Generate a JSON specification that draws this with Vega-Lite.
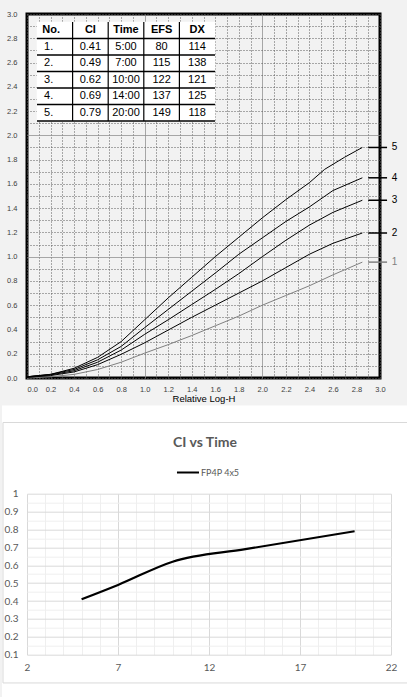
{
  "$schema": "https://vega.github.io/schema/vega-lite/v6.json",
  "background": "#f2f2f2",
  "padding": 0,
  "bounds": "flush",
  "spacing": 115.7,
  "config": {
    "view": {"stroke": null},
    "axis": {"ticks": false, "domain": false, "grid": true, "gridWidth": 1, "labelOverlap": false, "labelFlush": false, "labelBound": false}
  },
  "vconcat": [
    {
      "width": 353,
      "height": 364,
      "view": {"fill": "#f2f2f2", "stroke": "black", "strokeWidth": 3},
      "resolve": {"scale": {"x": "independent", "y": "independent"}, "axis": {"x": "independent", "y": "independent"}},
      "layer": [
        {
          "layer": [
            {
              "data": {"values": [
                {"s": 1, "x": 0, "y": 0.0}, {"s": 1, "x": 0.2, "y": 0.01}, {"s": 1, "x": 0.4, "y": 0.03}, {"s": 1, "x": 0.6, "y": 0.07}, {"s": 1, "x": 0.8, "y": 0.13}, {"s": 1, "x": 1.0, "y": 0.205}, {"s": 1, "x": 1.2, "y": 0.275}, {"s": 1, "x": 1.4, "y": 0.35}, {"s": 1, "x": 1.6, "y": 0.43}, {"s": 1, "x": 1.8, "y": 0.51}, {"s": 1, "x": 2.0, "y": 0.6}, {"s": 1, "x": 2.2, "y": 0.68}, {"s": 1, "x": 2.4, "y": 0.76}, {"s": 1, "x": 2.6, "y": 0.85}, {"s": 1, "x": 2.85, "y": 0.955},
                {"s": 2, "x": 0, "y": 0.005}, {"s": 2, "x": 0.2, "y": 0.02}, {"s": 2, "x": 0.4, "y": 0.05}, {"s": 2, "x": 0.6, "y": 0.11}, {"s": 2, "x": 0.8, "y": 0.195}, {"s": 2, "x": 1.0, "y": 0.29}, {"s": 2, "x": 1.2, "y": 0.395}, {"s": 2, "x": 1.4, "y": 0.5}, {"s": 2, "x": 1.6, "y": 0.6}, {"s": 2, "x": 1.8, "y": 0.7}, {"s": 2, "x": 2.0, "y": 0.8}, {"s": 2, "x": 2.2, "y": 0.91}, {"s": 2, "x": 2.4, "y": 1.02}, {"s": 2, "x": 2.6, "y": 1.11}, {"s": 2, "x": 2.85, "y": 1.195},
                {"s": 3, "x": 0, "y": 0.01}, {"s": 3, "x": 0.2, "y": 0.025}, {"s": 3, "x": 0.4, "y": 0.06}, {"s": 3, "x": 0.6, "y": 0.13}, {"s": 3, "x": 0.8, "y": 0.23}, {"s": 3, "x": 1.0, "y": 0.36}, {"s": 3, "x": 1.2, "y": 0.48}, {"s": 3, "x": 1.4, "y": 0.605}, {"s": 3, "x": 1.6, "y": 0.73}, {"s": 3, "x": 1.8, "y": 0.86}, {"s": 3, "x": 2.0, "y": 1.0}, {"s": 3, "x": 2.2, "y": 1.135}, {"s": 3, "x": 2.4, "y": 1.26}, {"s": 3, "x": 2.6, "y": 1.365}, {"s": 3, "x": 2.85, "y": 1.465},
                {"s": 4, "x": 0, "y": 0.01}, {"s": 4, "x": 0.2, "y": 0.03}, {"s": 4, "x": 0.4, "y": 0.07}, {"s": 4, "x": 0.6, "y": 0.15}, {"s": 4, "x": 0.8, "y": 0.26}, {"s": 4, "x": 1.0, "y": 0.415}, {"s": 4, "x": 1.2, "y": 0.565}, {"s": 4, "x": 1.4, "y": 0.715}, {"s": 4, "x": 1.6, "y": 0.865}, {"s": 4, "x": 1.8, "y": 1.02}, {"s": 4, "x": 2.0, "y": 1.155}, {"s": 4, "x": 2.2, "y": 1.29}, {"s": 4, "x": 2.4, "y": 1.41}, {"s": 4, "x": 2.6, "y": 1.545}, {"s": 4, "x": 2.85, "y": 1.65},
                {"s": 5, "x": 0, "y": 0.01}, {"s": 5, "x": 0.2, "y": 0.03}, {"s": 5, "x": 0.4, "y": 0.08}, {"s": 5, "x": 0.6, "y": 0.17}, {"s": 5, "x": 0.8, "y": 0.3}, {"s": 5, "x": 1.0, "y": 0.48}, {"s": 5, "x": 1.2, "y": 0.66}, {"s": 5, "x": 1.4, "y": 0.83}, {"s": 5, "x": 1.6, "y": 1.0}, {"s": 5, "x": 1.8, "y": 1.16}, {"s": 5, "x": 2.0, "y": 1.32}, {"s": 5, "x": 2.2, "y": 1.47}, {"s": 5, "x": 2.4, "y": 1.61}, {"s": 5, "x": 2.53, "y": 1.72}, {"s": 5, "x": 2.7, "y": 1.82}, {"s": 5, "x": 2.85, "y": 1.9}
              ]},
              "mark": {"type": "line", "strokeWidth": 1, "clip": false},
              "encoding": {
                "x": {
                  "field": "x", "type": "quantitative",
                  "scale": {"domain": [0, 3], "nice": false, "zero": false},
                  "axis": {
                    "values": [0,0.1,0.2,0.3,0.4,0.5,0.6,0.7,0.8,0.9,1,1.1,1.2,1.3,1.4,1.5,1.6,1.7,1.8,1.9,2,2.1,2.2,2.3,2.4,2.5,2.6,2.7,2.8,2.9,3],
                    "gridColor": {"condition": {"test": "datum.value == 1 || datum.value == 2", "value": "#8c8c8c"}, "value": "#5a5a5a"},
                    "gridDash": {"condition": {"test": "datum.value == 1 || datum.value == 2", "value": [1, 0]}, "value": [1, 2]},
                    "labelExpr": "round(datum.value * 10) % 2 == 0 ? format(datum.value, '.1f') : ''",
                    "labelAlign": {"condition": {"test": "datum.value == 0", "value": "left"}, "value": "center"},
                    "labelFont": "Liberation Sans", "labelFontSize": 7.5, "labelColor": "#404040", "labelPadding": 7,
                    "title": "Relative Log-H", "titleFont": "Liberation Sans", "titleFontSize": 9.5, "titleFontWeight": "normal", "titleColor": "#000000", "titlePadding": 1
                  }
                },
                "y": {
                  "field": "y", "type": "quantitative",
                  "scale": {"domain": [0, 3], "nice": false, "zero": false},
                  "axis": {
                    "values": [0,0.1,0.2,0.3,0.4,0.5,0.6,0.7,0.8,0.9,1,1.1,1.2,1.3,1.4,1.5,1.6,1.7,1.8,1.9,2,2.1,2.2,2.3,2.4,2.5,2.6,2.7,2.8,2.9,3],
                    "gridColor": {"condition": {"test": "datum.value == 1 || datum.value == 2", "value": "#8c8c8c"}, "value": "#5a5a5a"},
                    "gridDash": {"condition": {"test": "datum.value == 1 || datum.value == 2", "value": [1, 0]}, "value": [1, 2]},
                    "labelExpr": "round(datum.value * 10) % 2 == 0 ? format(datum.value, '.1f') : ''",
                    "labelFont": "Liberation Sans", "labelFontSize": 7.5, "labelColor": "#404040", "labelPadding": 10,
                    "title": null
                  }
                },
                "color": {"field": "s", "type": "nominal", "scale": {"domain": [1, 2, 3, 4, 5], "range": ["#808080", "#000000", "#000000", "#000000", "#000000"]}, "legend": null},
                "detail": {"field": "s"}
              }
            },
            {
              "data": {"values": [{}]},
              "mark": {"type": "rect", "fill": "transparent", "clip": false},
              "encoding": {
                "x": {"datum": -0.2125, "type": "quantitative", "scale": {"domain": [0, 3], "nice": false, "zero": false},
                  "axis": {
                    "values": [0,0.1,0.2,0.3,0.4,0.5,0.6,0.7,0.8,0.9,1,1.1,1.2,1.3,1.4,1.5,1.6,1.7,1.8,1.9,2,2.1,2.2,2.3,2.4,2.5,2.6,2.7,2.8,2.9,3],
                    "gridColor": {"condition": {"test": "datum.value == 1 || datum.value == 2", "value": "#8c8c8c"}, "value": "#5a5a5a"},
                    "gridDash": {"condition": {"test": "datum.value == 1 || datum.value == 2", "value": [1, 0]}, "value": [1, 2]},
                    "labelExpr": "round(datum.value * 10) % 2 == 0 ? format(datum.value, '.1f') : ''",
                    "labelAlign": {"condition": {"test": "datum.value == 0", "value": "left"}, "value": "center"},
                    "labelFont": "Liberation Sans", "labelFontSize": 7.5, "labelColor": "#404040", "labelPadding": 7,
                    "title": "Relative Log-H", "titleFont": "Liberation Sans", "titleFontSize": 9.5, "titleFontWeight": "normal", "titleColor": "#000000", "titlePadding": 1
                  }},
                "x2": {"datum": 3.2465},
                "y": {"datum": 3.0989, "type": "quantitative", "scale": {"domain": [0, 3], "nice": false, "zero": false},
                  "axis": {
                    "values": [0,0.1,0.2,0.3,0.4,0.5,0.6,0.7,0.8,0.9,1,1.1,1.2,1.3,1.4,1.5,1.6,1.7,1.8,1.9,2,2.1,2.2,2.3,2.4,2.5,2.6,2.7,2.8,2.9,3],
                    "gridColor": {"condition": {"test": "datum.value == 1 || datum.value == 2", "value": "#8c8c8c"}, "value": "#5a5a5a"},
                    "gridDash": {"condition": {"test": "datum.value == 1 || datum.value == 2", "value": [1, 0]}, "value": [1, 2]},
                    "labelExpr": "round(datum.value * 10) % 2 == 0 ? format(datum.value, '.1f') : ''",
                    "labelFont": "Liberation Sans", "labelFontSize": 7.5, "labelColor": "#404040", "labelPadding": 10,
                    "title": null
                  }},
                "y2": {"datum": 0}
              }
            },
            {
              "data": {"values": [{}]},
              "mark": {"type": "rect", "fill": "white", "clip": false},
              "encoding": {
                "x": {"datum": -0.2125, "type": "quantitative", "scale": {"domain": [0, 3], "nice": false, "zero": false},
                  "axis": {
                    "values": [0,0.1,0.2,0.3,0.4,0.5,0.6,0.7,0.8,0.9,1,1.1,1.2,1.3,1.4,1.5,1.6,1.7,1.8,1.9,2,2.1,2.2,2.3,2.4,2.5,2.6,2.7,2.8,2.9,3],
                    "gridColor": {"condition": {"test": "datum.value == 1 || datum.value == 2", "value": "#8c8c8c"}, "value": "#5a5a5a"},
                    "gridDash": {"condition": {"test": "datum.value == 1 || datum.value == 2", "value": [1, 0]}, "value": [1, 2]},
                    "labelExpr": "round(datum.value * 10) % 2 == 0 ? format(datum.value, '.1f') : ''",
                    "labelAlign": {"condition": {"test": "datum.value == 0", "value": "left"}, "value": "center"},
                    "labelFont": "Liberation Sans", "labelFontSize": 7.5, "labelColor": "#404040", "labelPadding": 7,
                    "title": "Relative Log-H", "titleFont": "Liberation Sans", "titleFontSize": 9.5, "titleFontWeight": "normal", "titleColor": "#000000", "titlePadding": 1
                  }},
                "x2": {"datum": 3.2465},
                "y": {"datum": -0.2267, "type": "quantitative", "scale": {"domain": [0, 3], "nice": false, "zero": false},
                  "axis": {
                    "values": [0,0.1,0.2,0.3,0.4,0.5,0.6,0.7,0.8,0.9,1,1.1,1.2,1.3,1.4,1.5,1.6,1.7,1.8,1.9,2,2.1,2.2,2.3,2.4,2.5,2.6,2.7,2.8,2.9,3],
                    "gridColor": {"condition": {"test": "datum.value == 1 || datum.value == 2", "value": "#8c8c8c"}, "value": "#5a5a5a"},
                    "gridDash": {"condition": {"test": "datum.value == 1 || datum.value == 2", "value": [1, 0]}, "value": [1, 2]},
                    "labelExpr": "round(datum.value * 10) % 2 == 0 ? format(datum.value, '.1f') : ''",
                    "labelFont": "Liberation Sans", "labelFontSize": 7.5, "labelColor": "#404040", "labelPadding": 10,
                    "title": null
                  }},
                "y2": {"datum": -2.6456}
              }
            },
            {
              "data": {"values": [{"s": 1, "v": 0.955}, {"s": 2, "v": 1.195}, {"s": 3, "v": 1.465}, {"s": 4, "v": 1.65}, {"s": 5, "v": 1.9}]},
              "mark": {"type": "rule", "strokeWidth": 1.5, "clip": false},
              "encoding": {
                "x": {"datum": 2.9, "type": "quantitative", "scale": {"domain": [0, 3], "nice": false, "zero": false},
                  "axis": {
                    "values": [0,0.1,0.2,0.3,0.4,0.5,0.6,0.7,0.8,0.9,1,1.1,1.2,1.3,1.4,1.5,1.6,1.7,1.8,1.9,2,2.1,2.2,2.3,2.4,2.5,2.6,2.7,2.8,2.9,3],
                    "gridColor": {"condition": {"test": "datum.value == 1 || datum.value == 2", "value": "#8c8c8c"}, "value": "#5a5a5a"},
                    "gridDash": {"condition": {"test": "datum.value == 1 || datum.value == 2", "value": [1, 0]}, "value": [1, 2]},
                    "labelExpr": "round(datum.value * 10) % 2 == 0 ? format(datum.value, '.1f') : ''",
                    "labelAlign": {"condition": {"test": "datum.value == 0", "value": "left"}, "value": "center"},
                    "labelFont": "Liberation Sans", "labelFontSize": 7.5, "labelColor": "#404040", "labelPadding": 7,
                    "title": "Relative Log-H", "titleFont": "Liberation Sans", "titleFontSize": 9.5, "titleFontWeight": "normal", "titleColor": "#000000", "titlePadding": 1
                  }},
                "x2": {"datum": 3.06},
                "y": {"field": "v", "type": "quantitative", "scale": {"domain": [0, 3], "nice": false, "zero": false},
                  "axis": {
                    "values": [0,0.1,0.2,0.3,0.4,0.5,0.6,0.7,0.8,0.9,1,1.1,1.2,1.3,1.4,1.5,1.6,1.7,1.8,1.9,2,2.1,2.2,2.3,2.4,2.5,2.6,2.7,2.8,2.9,3],
                    "gridColor": {"condition": {"test": "datum.value == 1 || datum.value == 2", "value": "#8c8c8c"}, "value": "#5a5a5a"},
                    "gridDash": {"condition": {"test": "datum.value == 1 || datum.value == 2", "value": [1, 0]}, "value": [1, 2]},
                    "labelExpr": "round(datum.value * 10) % 2 == 0 ? format(datum.value, '.1f') : ''",
                    "labelFont": "Liberation Sans", "labelFontSize": 7.5, "labelColor": "#404040", "labelPadding": 10,
                    "title": null
                  }},
                "color": {"field": "s", "type": "nominal", "scale": {"domain": [1, 2, 3, 4, 5], "range": ["#808080", "#000000", "#000000", "#000000", "#000000"]}, "legend": null}
              }
            },
            {
              "data": {"values": [{"s": 1, "v": 0.955}, {"s": 2, "v": 1.195}, {"s": 3, "v": 1.465}, {"s": 4, "v": 1.65}, {"s": 5, "v": 1.9}]},
              "mark": {"type": "text", "align": "left", "baseline": "middle", "font": "Liberation Sans", "fontSize": 10, "clip": false},
              "encoding": {
                "x": {"datum": 3.1, "type": "quantitative", "scale": {"domain": [0, 3], "nice": false, "zero": false},
                  "axis": {
                    "values": [0,0.1,0.2,0.3,0.4,0.5,0.6,0.7,0.8,0.9,1,1.1,1.2,1.3,1.4,1.5,1.6,1.7,1.8,1.9,2,2.1,2.2,2.3,2.4,2.5,2.6,2.7,2.8,2.9,3],
                    "gridColor": {"condition": {"test": "datum.value == 1 || datum.value == 2", "value": "#8c8c8c"}, "value": "#5a5a5a"},
                    "gridDash": {"condition": {"test": "datum.value == 1 || datum.value == 2", "value": [1, 0]}, "value": [1, 2]},
                    "labelExpr": "round(datum.value * 10) % 2 == 0 ? format(datum.value, '.1f') : ''",
                    "labelAlign": {"condition": {"test": "datum.value == 0", "value": "left"}, "value": "center"},
                    "labelFont": "Liberation Sans", "labelFontSize": 7.5, "labelColor": "#404040", "labelPadding": 7,
                    "title": "Relative Log-H", "titleFont": "Liberation Sans", "titleFontSize": 9.5, "titleFontWeight": "normal", "titleColor": "#000000", "titlePadding": 1
                  }},
                "y": {"field": "v", "type": "quantitative", "scale": {"domain": [0, 3], "nice": false, "zero": false},
                  "axis": {
                    "values": [0,0.1,0.2,0.3,0.4,0.5,0.6,0.7,0.8,0.9,1,1.1,1.2,1.3,1.4,1.5,1.6,1.7,1.8,1.9,2,2.1,2.2,2.3,2.4,2.5,2.6,2.7,2.8,2.9,3],
                    "gridColor": {"condition": {"test": "datum.value == 1 || datum.value == 2", "value": "#8c8c8c"}, "value": "#5a5a5a"},
                    "gridDash": {"condition": {"test": "datum.value == 1 || datum.value == 2", "value": [1, 0]}, "value": [1, 2]},
                    "labelExpr": "round(datum.value * 10) % 2 == 0 ? format(datum.value, '.1f') : ''",
                    "labelFont": "Liberation Sans", "labelFontSize": 7.5, "labelColor": "#404040", "labelPadding": 10,
                    "title": null
                  }},
                "text": {"field": "s"},
                "color": {"field": "s", "type": "nominal", "scale": {"domain": [1, 2, 3, 4, 5], "range": ["#808080", "#000000", "#000000", "#000000", "#000000"]}, "legend": null}
              }
            }
          ]
        },
        {
          "data": {"values": [
            {"row": "hdr", "no": "No.", "ci": "CI", "time": "Time", "efs": "EFS", "dx": "DX"},
            {"row": "1", "no": "1.", "ci": "0.41", "time": "5:00", "efs": "80", "dx": "114"},
            {"row": "2", "no": "2.", "ci": "0.49", "time": "7:00", "efs": "115", "dx": "138"},
            {"row": "3", "no": "3.", "ci": "0.62", "time": "10:00", "efs": "122", "dx": "121"},
            {"row": "4", "no": "4.", "ci": "0.69", "time": "14:00", "efs": "137", "dx": "125"},
            {"row": "5", "no": "5.", "ci": "0.79", "time": "20:00", "efs": "149", "dx": "118"}
          ]},
          "layer": [
            {
              "transform": [{"fold": ["no", "ci", "time", "efs", "dx"], "as": ["col", "txt"]}],
              "mark": {"type": "rect", "fill": "white", "stroke": "white", "strokeWidth": 0.5},
              "encoding": {
                "x": {"field": "col", "type": "nominal", "scale": {"type": "band", "domain": ["no", "ci", "time", "efs", "dx"], "range": [10, 188], "paddingInner": 0, "paddingOuter": 0}, "axis": null},
                "y": {"field": "row", "type": "nominal", "scale": {"type": "band", "domain": ["hdr", "1", "2", "3", "4", "5"], "range": [8, 107], "paddingInner": 0, "paddingOuter": 0}, "axis": null}
              }
            },
            {
              "mark": {"type": "rule", "color": "black", "strokeWidth": 1.5},
              "encoding": {
                "x": {"datum": "no", "type": "nominal", "bandPosition": 0, "scale": {"type": "band", "domain": ["no", "ci", "time", "efs", "dx"], "range": [10, 188], "paddingInner": 0, "paddingOuter": 0}, "axis": null},
                "x2": {"datum": "dx", "bandPosition": 1},
                "y": {"field": "row", "type": "nominal", "bandPosition": 1, "scale": {"type": "band", "domain": ["hdr", "1", "2", "3", "4", "5"], "range": [8, 107], "paddingInner": 0, "paddingOuter": 0}, "axis": null}
              }
            },
            {
              "transform": [{"fold": ["no", "ci", "time", "efs", "dx"], "as": ["col", "txt"]}, {"filter": "datum.row == 'hdr' && datum.col != 'no'"}],
              "mark": {"type": "rule", "color": "black", "strokeWidth": 1.2},
              "encoding": {
                "x": {"field": "col", "type": "nominal", "bandPosition": 0, "scale": {"type": "band", "domain": ["no", "ci", "time", "efs", "dx"], "range": [10, 188], "paddingInner": 0, "paddingOuter": 0}, "axis": null},
                "y": {"datum": "hdr", "type": "nominal", "bandPosition": 0, "scale": {"type": "band", "domain": ["hdr", "1", "2", "3", "4", "5"], "range": [8, 107], "paddingInner": 0, "paddingOuter": 0}, "axis": null},
                "y2": {"datum": "5", "bandPosition": 1}
              }
            },
            {
              "transform": [{"fold": ["no", "ci", "time", "efs", "dx"], "as": ["col", "txt"]}, {"filter": "datum.row == 'hdr' && datum.col == 'no'"}],
              "mark": {"type": "text", "align": "left", "baseline": "middle", "font": "Liberation Sans", "fontSize": 11, "fontWeight": "bold", "color": "black"},
              "encoding": {
                "x": {"field": "col", "type": "nominal", "bandPosition": 0.15, "scale": {"type": "band", "domain": ["no", "ci", "time", "efs", "dx"], "range": [10, 188], "paddingInner": 0, "paddingOuter": 0}, "axis": null},
                "y": {"field": "row", "type": "nominal", "scale": {"type": "band", "domain": ["hdr", "1", "2", "3", "4", "5"], "range": [8, 107], "paddingInner": 0, "paddingOuter": 0}, "axis": null},
                "text": {"field": "txt"}
              }
            },
            {
              "transform": [{"fold": ["no", "ci", "time", "efs", "dx"], "as": ["col", "txt"]}, {"filter": "datum.row == 'hdr' && datum.col != 'no'"}],
              "mark": {"type": "text", "align": "center", "baseline": "middle", "font": "Liberation Sans", "fontSize": 11, "fontWeight": "bold", "color": "black"},
              "encoding": {
                "x": {"field": "col", "type": "nominal", "scale": {"type": "band", "domain": ["no", "ci", "time", "efs", "dx"], "range": [10, 188], "paddingInner": 0, "paddingOuter": 0}, "axis": null},
                "y": {"field": "row", "type": "nominal", "scale": {"type": "band", "domain": ["hdr", "1", "2", "3", "4", "5"], "range": [8, 107], "paddingInner": 0, "paddingOuter": 0}, "axis": null},
                "text": {"field": "txt"}
              }
            },
            {
              "transform": [{"fold": ["no", "ci", "time", "efs", "dx"], "as": ["col", "txt"]}, {"filter": "datum.row != 'hdr' && datum.col == 'no'"}],
              "mark": {"type": "text", "align": "left", "baseline": "middle", "font": "Liberation Sans", "fontSize": 11, "color": "black"},
              "encoding": {
                "x": {"field": "col", "type": "nominal", "bandPosition": 0.2, "scale": {"type": "band", "domain": ["no", "ci", "time", "efs", "dx"], "range": [10, 188], "paddingInner": 0, "paddingOuter": 0}, "axis": null},
                "y": {"field": "row", "type": "nominal", "scale": {"type": "band", "domain": ["hdr", "1", "2", "3", "4", "5"], "range": [8, 107], "paddingInner": 0, "paddingOuter": 0}, "axis": null},
                "text": {"field": "txt"}
              }
            },
            {
              "transform": [{"fold": ["no", "ci", "time", "efs", "dx"], "as": ["col", "txt"]}, {"filter": "datum.row != 'hdr' && datum.col != 'no'"}],
              "mark": {"type": "text", "align": "center", "baseline": "middle", "font": "Liberation Sans", "fontSize": 11, "color": "black"},
              "encoding": {
                "x": {"field": "col", "type": "nominal", "scale": {"type": "band", "domain": ["no", "ci", "time", "efs", "dx"], "range": [10, 188], "paddingInner": 0, "paddingOuter": 0}, "axis": null},
                "y": {"field": "row", "type": "nominal", "scale": {"type": "band", "domain": ["hdr", "1", "2", "3", "4", "5"], "range": [8, 107], "paddingInner": 0, "paddingOuter": 0}, "axis": null},
                "text": {"field": "txt"}
              }
            }
          ]
        }
      ]
    },
    {
      "width": 364,
      "height": 161,
      "view": {"stroke": null},
      "layer": [
        {
          "data": {"values": [
            {"time": 5, "ci": 0.41},
            {"time": 7, "ci": 0.49},
            {"time": 10, "ci": 0.62},
            {"time": 14, "ci": 0.69},
            {"time": 20, "ci": 0.79}
          ]},
          "mark": {"type": "line", "color": "black", "strokeWidth": 2.2, "interpolate": "monotone"},
          "encoding": {
            "x": {
              "field": "time", "type": "quantitative",
              "scale": {"domain": [2, 22], "nice": false, "zero": false},
              "axis": {
                "values": [2,3,4,5,6,7,8,9,10,11,12,13,14,15,16,17,18,19,20,21,22],
                "gridColor": {"condition": {"test": "(datum.value - 2) % 5 == 0", "value": "#d9d9d9"}, "value": "#efefef"},
                "labelExpr": "(datum.value - 2) % 5 == 0 ? datum.label : ''",
                "labelFont": "Lato", "labelFontSize": 10, "labelColor": "#595959", "labelPadding": 8,
                "title": null
              }
            },
            "y": {
              "field": "ci", "type": "quantitative",
              "scale": {"domain": [0.1, 1], "nice": false, "zero": false},
              "axis": {
                "values": [0.1,0.15,0.2,0.25,0.3,0.35,0.4,0.45,0.5,0.55,0.6,0.65,0.7,0.75,0.8,0.85,0.9,0.95,1],
                "gridColor": {"condition": {"test": "abs(datum.value * 10 - round(datum.value * 10)) < 0.01", "value": "#d9d9d9"}, "value": "#efefef"},
                "labelExpr": "abs(datum.value * 10 - round(datum.value * 10)) < 0.01 ? format(datum.value, '~g') : ''",
                "labelFont": "Lato", "labelFontSize": 10, "labelColor": "#595959", "labelPadding": 9,
                "title": null
              }
            }
          }
        },
        {
          "data": {"values": [{}]},
          "mark": {"type": "rect", "fill": "transparent", "stroke": "#d9d9d9", "strokeWidth": 1, "clip": false},
          "encoding": {
            "x": {"datum": 0.681, "type": "quantitative", "scale": {"domain": [2, 22], "nice": false, "zero": false},
              "axis": {
                "values": [2,3,4,5,6,7,8,9,10,11,12,13,14,15,16,17,18,19,20,21,22],
                "gridColor": {"condition": {"test": "(datum.value - 2) % 5 == 0", "value": "#d9d9d9"}, "value": "#efefef"},
                "labelExpr": "(datum.value - 2) % 5 == 0 ? datum.label : ''",
                "labelFont": "Lato", "labelFontSize": 10, "labelColor": "#595959", "labelPadding": 8,
                "title": null
              }},
            "x2": {"datum": 22.934},
            "y": {"datum": 1.398, "type": "quantitative", "scale": {"domain": [0.1, 1], "nice": false, "zero": false},
              "axis": {
                "values": [0.1,0.15,0.2,0.25,0.3,0.35,0.4,0.45,0.5,0.55,0.6,0.65,0.7,0.75,0.8,0.85,0.9,0.95,1],
                "gridColor": {"condition": {"test": "abs(datum.value * 10 - round(datum.value * 10)) < 0.01", "value": "#d9d9d9"}, "value": "#efefef"},
                "labelExpr": "abs(datum.value * 10 - round(datum.value * 10)) < 0.01 ? format(datum.value, '~g') : ''",
                "labelFont": "Lato", "labelFontSize": 10, "labelColor": "#595959", "labelPadding": 9,
                "title": null
              }},
            "y2": {"datum": -0.058}
          }
        },
        {
          "data": {"values": [{}]},
          "mark": {"type": "text", "align": "center", "baseline": "middle", "font": "Lato", "fontSize": 14, "fontWeight": "bold", "color": "#595959", "clip": false},
          "encoding": {
            "x": {"datum": 11.78, "type": "quantitative", "scale": {"domain": [2, 22], "nice": false, "zero": false},
              "axis": {
                "values": [2,3,4,5,6,7,8,9,10,11,12,13,14,15,16,17,18,19,20,21,22],
                "gridColor": {"condition": {"test": "(datum.value - 2) % 5 == 0", "value": "#d9d9d9"}, "value": "#efefef"},
                "labelExpr": "(datum.value - 2) % 5 == 0 ? datum.label : ''",
                "labelFont": "Lato", "labelFontSize": 10, "labelColor": "#595959", "labelPadding": 8,
                "title": null
              }},
            "y": {"datum": 1.2834, "type": "quantitative", "scale": {"domain": [0.1, 1], "nice": false, "zero": false},
              "axis": {
                "values": [0.1,0.15,0.2,0.25,0.3,0.35,0.4,0.45,0.5,0.55,0.6,0.65,0.7,0.75,0.8,0.85,0.9,0.95,1],
                "gridColor": {"condition": {"test": "abs(datum.value * 10 - round(datum.value * 10)) < 0.01", "value": "#d9d9d9"}, "value": "#efefef"},
                "labelExpr": "abs(datum.value * 10 - round(datum.value * 10)) < 0.01 ? format(datum.value, '~g') : ''",
                "labelFont": "Lato", "labelFontSize": 10, "labelColor": "#595959", "labelPadding": 9,
                "title": null
              }},
            "text": {"value": "CI vs Time"}
          }
        },
        {
          "data": {"values": [{}]},
          "mark": {"type": "rule", "color": "black", "strokeWidth": 2, "clip": false},
          "encoding": {
            "x": {"datum": 10.24, "type": "quantitative", "scale": {"domain": [2, 22], "nice": false, "zero": false},
              "axis": {
                "values": [2,3,4,5,6,7,8,9,10,11,12,13,14,15,16,17,18,19,20,21,22],
                "gridColor": {"condition": {"test": "(datum.value - 2) % 5 == 0", "value": "#d9d9d9"}, "value": "#efefef"},
                "labelExpr": "(datum.value - 2) % 5 == 0 ? datum.label : ''",
                "labelFont": "Lato", "labelFontSize": 10, "labelColor": "#595959", "labelPadding": 8,
                "title": null
              }},
            "x2": {"datum": 11.45},
            "y": {"datum": 1.1185, "type": "quantitative", "scale": {"domain": [0.1, 1], "nice": false, "zero": false},
              "axis": {
                "values": [0.1,0.15,0.2,0.25,0.3,0.35,0.4,0.45,0.5,0.55,0.6,0.65,0.7,0.75,0.8,0.85,0.9,0.95,1],
                "gridColor": {"condition": {"test": "abs(datum.value * 10 - round(datum.value * 10)) < 0.01", "value": "#d9d9d9"}, "value": "#efefef"},
                "labelExpr": "abs(datum.value * 10 - round(datum.value * 10)) < 0.01 ? format(datum.value, '~g') : ''",
                "labelFont": "Lato", "labelFontSize": 10, "labelColor": "#595959", "labelPadding": 9,
                "title": null
              }}
          }
        },
        {
          "data": {"values": [{}]},
          "mark": {"type": "text", "align": "left", "baseline": "middle", "font": "Lato", "fontSize": 9, "color": "#595959", "clip": false},
          "encoding": {
            "x": {"datum": 11.56, "type": "quantitative", "scale": {"domain": [2, 22], "nice": false, "zero": false},
              "axis": {
                "values": [2,3,4,5,6,7,8,9,10,11,12,13,14,15,16,17,18,19,20,21,22],
                "gridColor": {"condition": {"test": "(datum.value - 2) % 5 == 0", "value": "#d9d9d9"}, "value": "#efefef"},
                "labelExpr": "(datum.value - 2) % 5 == 0 ? datum.label : ''",
                "labelFont": "Lato", "labelFontSize": 10, "labelColor": "#595959", "labelPadding": 8,
                "title": null
              }},
            "y": {"datum": 1.1185, "type": "quantitative", "scale": {"domain": [0.1, 1], "nice": false, "zero": false},
              "axis": {
                "values": [0.1,0.15,0.2,0.25,0.3,0.35,0.4,0.45,0.5,0.55,0.6,0.65,0.7,0.75,0.8,0.85,0.9,0.95,1],
                "gridColor": {"condition": {"test": "abs(datum.value * 10 - round(datum.value * 10)) < 0.01", "value": "#d9d9d9"}, "value": "#efefef"},
                "labelExpr": "abs(datum.value * 10 - round(datum.value * 10)) < 0.01 ? format(datum.value, '~g') : ''",
                "labelFont": "Lato", "labelFontSize": 10, "labelColor": "#595959", "labelPadding": 9,
                "title": null
              }},
            "text": {"value": "FP4P 4x5"}
          }
        }
      ]
    }
  ]
}
